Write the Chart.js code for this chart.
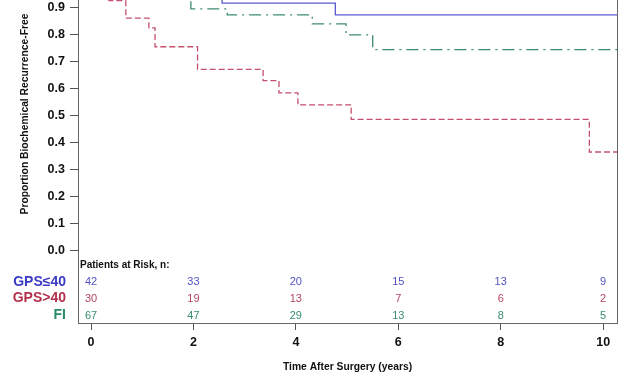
<!DOCTYPE html>
<html>
<head>
<meta charset="utf-8">
<script src="https://cdn.jsdelivr.net/npm/chart.js@4.4.1/dist/chart.umd.min.js"></script>
<style>
html,body{margin:0;padding:0;background:#fff;}
#wrap{width:627px;height:376px;position:relative;}
</style>
</head>
<body>
<div id="wrap"><canvas id="c" width="627" height="376"></canvas></div>
<script>
// ---- data ----
const blueTimes = [0, 0.5, 1.5, 2.56, 4.77, 10.27];
const blueSurv  = [1.0, 0.976, 0.952, 0.918, 0.874, 0.874];
const redTimes  = [0, 0.35, 0.68, 1.13, 1.25, 2.08, 3.36, 3.67, 4.04, 5.08, 9.73, 10.27];
const redSurv   = [1.0, 0.927, 0.862, 0.826, 0.756, 0.672, 0.63, 0.585, 0.54, 0.486, 0.365, 0.365];
const tealTimes = [0, 0.6, 1.2, 1.95, 2.66, 4.32, 4.98, 5.5, 10.27];
const tealSurv  = [1.0, 0.985, 0.955, 0.897, 0.874, 0.841, 0.80, 0.745, 0.745];

const xTicks = [0, 2, 4, 6, 8, 10];
const yTicks = [0, 0.1, 0.2, 0.3, 0.4, 0.5, 0.6, 0.7, 0.8, 0.9];

const riskTimes = [0, 2, 4, 6, 8, 10];
const riskLabels = ['GPS\u226440', 'GPS>40', 'FI'];
const riskBlue = [42, 33, 20, 15, 13, 9];
const riskRed  = [30, 19, 13, 7, 6, 2];
const riskTeal = [67, 47, 29, 13, 8, 5];

const labelColors = ['#3a3ac4', '#b4304c', '#2a8a6c'];
const numColors   = ['#5252c2', '#b44660', '#3a8c72'];
const lineColors  = ['#5858cc', '#c4506c', '#3e8c6e'];

const FONT = '"Liberation Sans", Arial, sans-serif';

function pts(t, s){ return t.map((v,i)=>({x:v, y:s[i]})); }

const framePlugin = {
  id:'frame',
  afterDraw(chart){
    const ctx = chart.ctx, a = chart.chartArea, xs = chart.scales.x;
    ctx.save();
    // right border
    ctx.strokeStyle = '#666'; ctx.lineWidth = 1;
    ctx.beginPath(); ctx.moveTo(a.right+0.5, a.top); ctx.lineTo(a.right+0.5, a.bottom); ctx.stroke();
    // risk table
    ctx.fillStyle = '#111';
    ctx.font = 'bold 10px ' + FONT;
    ctx.textAlign = 'left'; ctx.textBaseline = 'middle';
    ctx.fillText('Patients at Risk, n:', a.left + 2, a.bottom - 58);
    const rows = [riskBlue, riskRed, riskTeal];
    const rowY = [a.bottom - 41, a.bottom - 24.5, a.bottom - 7.5];
    rows.forEach((r, ri)=>{
      ctx.font = 'bold 14px ' + FONT;
      ctx.fillStyle = labelColors[ri];
      ctx.textAlign = 'right';
      ctx.fillText(riskLabels[ri], 66, rowY[ri]);
      ctx.font = '11px ' + FONT;
      ctx.fillStyle = numColors[ri];
      ctx.textAlign = 'center';
      r.forEach((n, i)=>{
        ctx.fillText(String(n), xs.getPixelForValue(riskTimes[i]), rowY[ri]);
      });
    });
    // axis titles
    ctx.fillStyle = '#111';
    ctx.font = 'bold 10.3px ' + FONT;
    ctx.textAlign = 'center'; ctx.textBaseline = 'middle';
    ctx.fillText('Time After Surgery (years)', (a.left + a.right)/2, 367);
    ctx.save();
    ctx.translate(25.5, 114);
    ctx.rotate(-Math.PI/2);
    ctx.fillText('Proportion Biochemical Recurrence-Free', 0, 0);
    ctx.restore();
    ctx.restore();
  }
};

new Chart(document.getElementById('c'), {
  type:'line',
  data:{
    datasets:[
      {label:'GPS\u226440', data:pts(blueTimes, blueSurv), stepped:true, borderColor:lineColors[0], borderWidth:1.3, pointRadius:0, fill:false},
      {label:'GPS>40', data:pts(redTimes, redSurv), stepped:true, borderColor:lineColors[1], borderWidth:1.3, borderDash:[6,3], pointRadius:0, fill:false},
      {label:'FI', data:pts(tealTimes, tealSurv), stepped:true, borderColor:lineColors[2], borderWidth:1.3, borderDash:[12,5,2,5], pointRadius:0, fill:false}
    ]
  },
  options:{
    responsive:false,
    animation:false,
    events:[],
    layout:{padding:{left:0,right:10,top:0,bottom:0}},
    plugins:{legend:{display:false}, tooltip:{enabled:false}},
    scales:{
      x:{
        type:'linear', min:-0.254, max:10.27,
        afterBuildTicks(s){ s.ticks = xTicks.map(v=>({value:v})); },
        afterFit(s){ s.height = 53; s.paddingLeft = 0; s.paddingRight = 0; },
        grid:{display:true, drawOnChartArea:false, drawTicks:true, tickLength:7, color:'#555'},
        border:{display:true, color:'#666', width:1},
        ticks:{color:'#111', font:{family:FONT, size:12.5, weight:'bold'}, padding:5, maxRotation:0, autoSkip:false, callback:v=>String(v)}
      },
      y:{
        type:'linear', min:-0.27, max:0.9296,
        afterBuildTicks(s){ s.ticks = yTicks.map(v=>({value:v})); },
        afterFit(s){ s.width = 78; s.paddingTop = 0; s.paddingBottom = 0; },
        grid:{display:true, drawOnChartArea:false, drawTicks:true, tickLength:8, color:'#555'},
        border:{display:true, color:'#666', width:1},
        ticks:{color:'#111', font:{family:FONT, size:12.5, weight:'bold'}, padding:5, autoSkip:false, callback:v=>v.toFixed(1)}
      }
    }
  },
  plugins:[framePlugin]
});
</script>
</body>
</html>
